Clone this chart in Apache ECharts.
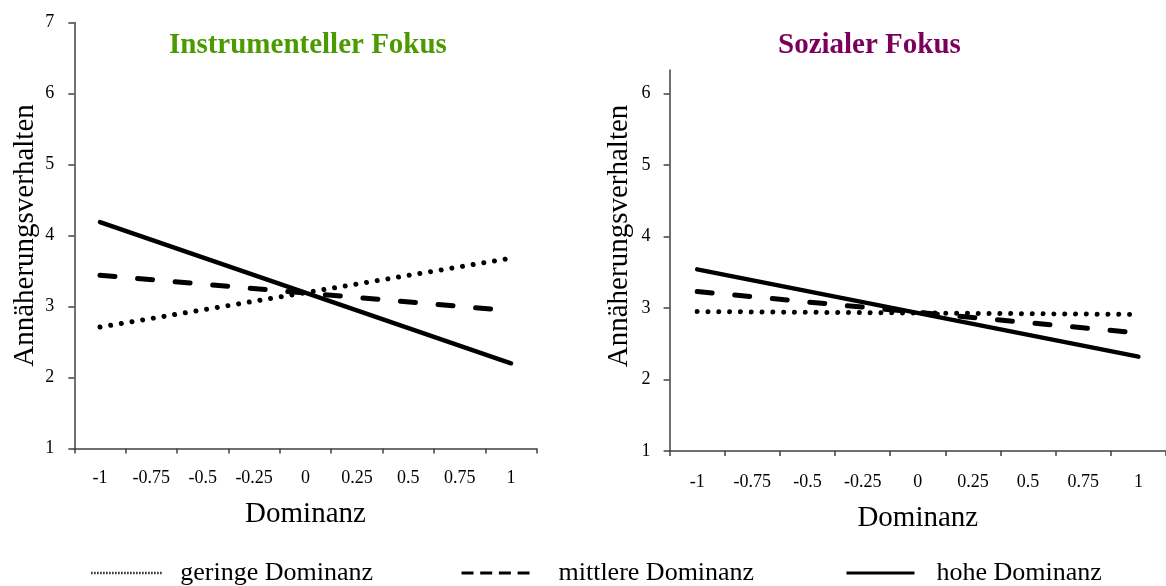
<!DOCTYPE html>
<html>
<head>
<meta charset="utf-8">
<script src="https://cdn.jsdelivr.net/npm/echarts@6/dist/echarts.min.js"></script>
<style>
html,body{margin:0;padding:0;background:#fff;}
#chart{width:1166px;height:586px;}
</style>
</head>
<body>
<div id="chart"></div>
<script>
// ---- data ----
const categories = ['-1', '-0.75', '-0.5', '-0.25', '0', '0.25', '0.5', '0.75', '1'];
const endpoints = ['-1', '1'];
const yTicksLeft = [1, 2, 3, 4, 5, 6, 7];
const yTicksRight = [1, 2, 3, 4, 5, 6];
const seriesNames = ['geringe Dominanz', 'mittlere Dominanz', 'hohe Dominanz'];
// Instrumenteller Fokus
const instrGeringe = [2.71, 3.68];
const instrMittlere = [3.44, 2.94];
const instrHohe = [4.19, 2.2];
// Sozialer Fokus
const sozGeringe = [2.95, 2.91];
const sozMittlere = [3.23, 2.65];
const sozHohe = [3.54, 2.32];
const titles = ['Instrumenteller Fokus', 'Sozialer Fokus'];
const xName = 'Dominanz';
const yName = 'Annäherungsverhalten';

const FONT = "'Liberation Serif', 'Times New Roman', serif";
const AXIS_COLOR = '#404040';

function pairs(vals) { return endpoints.map((c, i) => [c, vals[i]]); }

const styles = [
  { width: 5, type: [0.01, 10.8], cap: 'round' },
  { width: 5, type: [15, 22.7], cap: 'round' },
  { width: 4.5, type: 'solid', cap: 'round' }
];

function mkSeries(name, vals, idx, styleIdx) {
  return {
    name: name, type: 'line', xAxisIndex: idx, yAxisIndex: idx,
    data: pairs(vals), symbol: 'none', silent: true,
    lineStyle: Object.assign({ color: '#000' }, styles[styleIdx]),
    itemStyle: { color: '#000' }
  };
}

function mkX(idx, labelMargin, nameGap) {
  return {
    type: 'category', gridIndex: idx, data: categories, boundaryGap: true,
    name: xName, nameLocation: 'middle', nameGap: nameGap,
    nameTextStyle: { fontFamily: FONT, fontSize: 29, color: '#000' },
    axisLine: { lineStyle: { color: AXIS_COLOR, width: 1.5 } },
    axisTick: { show: true, length: 5, lineStyle: { color: AXIS_COLOR, width: 1.5 } },
    axisLabel: { fontFamily: FONT, fontSize: 18, color: '#000', margin: labelMargin, interval: 0 },
    splitLine: { show: false }
  };
}

function mkY(idx, max, ticks, labelMargin, nameGap, namePad) {
  return {
    type: 'value', gridIndex: idx, min: 1, max: max, interval: 1,
    name: yName, nameLocation: 'middle', nameGap: nameGap, nameRotate: 90,
    nameTextStyle: { fontFamily: FONT, fontSize: 29, color: '#000', padding: namePad },
    axisLine: { show: true, lineStyle: { color: AXIS_COLOR, width: 1.5 } },
    axisTick: { show: true, length: 6, customValues: ticks, lineStyle: { color: AXIS_COLOR, width: 1.5 } },
    axisLabel: { fontFamily: FONT, fontSize: 18, color: '#000', margin: labelMargin, customValues: ticks },
    splitLine: { show: false }
  };
}

function mkLegend(left, name, itemWidth, textPad, lineStyle) {
  return {
    left: left, top: 560, orient: 'horizontal', selectedMode: false,
    itemWidth: itemWidth, itemHeight: 14, padding: 0,
    textStyle: { fontFamily: FONT, fontSize: 26, color: '#000', padding: [0, 0, 0, textPad] },
    data: [{
      name: name,
      itemStyle: { color: 'rgba(0,0,0,0)', borderWidth: 0, opacity: 0 },
      lineStyle: Object.assign({ color: '#000', opacity: 1 }, lineStyle)
    }]
  };
}

const chart = echarts.init(document.getElementById('chart'), null, { renderer: 'canvas' });
chart.setOption({
  animation: false,
  backgroundColor: '#fff',
  title: [
    { text: titles[0], left: 169, top: 31, padding: 0,
      textStyle: { fontFamily: FONT, fontSize: 29, fontWeight: 'bold', color: '#4b9a00' } },
    { text: titles[1], left: 778, top: 31, padding: 0,
      textStyle: { fontFamily: FONT, fontSize: 29, fontWeight: 'bold', color: '#7b005e' } }
  ],
  grid: [
    { left: 74.3, top: 22.5, width: 462.4, height: 426 },
    { left: 669.6, top: 69.9, width: 498.6, height: 381.1 }
  ],
  xAxis: [mkX(0, 21, 51), mkX(1, 22, 53)],
  yAxis: [mkY(0, 7, yTicksLeft, 20, 34, 0), mkY(1, 6.33, yTicksRight, 19, 36, [0, 0, 0, 49])],
  legend: [
    mkLegend(90, seriesNames[0], 71, 13, { width: 2.5, type: [1.3, 1.7], cap: 'butt' }),
    mkLegend(460, seriesNames[1], 68, 24, { width: 3, type: [12, 6.7], cap: 'butt' }),
    mkLegend(845, seriesNames[2], 68, 17, { width: 3, type: 'solid', cap: 'butt' })
  ],
  series: [
    mkSeries(seriesNames[0], instrGeringe, 0, 0),
    mkSeries(seriesNames[1], instrMittlere, 0, 1),
    mkSeries(seriesNames[2], instrHohe, 0, 2),
    mkSeries(seriesNames[0], sozGeringe, 1, 0),
    mkSeries(seriesNames[1], sozMittlere, 1, 1),
    mkSeries(seriesNames[2], sozHohe, 1, 2)
  ]
});
</script>
</body>
</html>
